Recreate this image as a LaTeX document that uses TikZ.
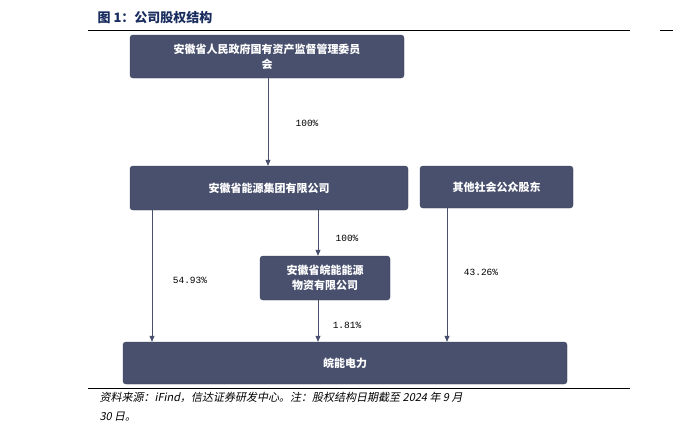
\documentclass[tikz,border=0pt]{standalone}
\usepackage{fontspec}
\setmainfont{Liberation Serif}
\newfontfamily\cjk{Noto Sans CJK SC}
\newfontfamily\cjksl{Noto Sans CJK SC}[FakeSlant=0.2]
\newfontfamily\lbl{Liberation Mono}
\usetikzlibrary{arrows.meta}
\definecolor{boxc}{RGB}{72,80,110}
\definecolor{titc}{RGB}{25,45,95}
\begin{document}
\begin{tikzpicture}[x=1pt,y=-1pt,
  bx/.style={draw=boxc!80!black,fill=boxc,rounded corners=3pt,text=white,font=\cjk\bfseries\fontsize{11}{15}\selectfont,align=center,inner sep=0pt},
  ar/.style={draw=boxc,line width=0.8pt,-{Triangle[length=6pt,width=5pt]}},
  pl/.style={font=\lbl\fontsize{9.5}{11}\selectfont,text=black}]
\useasboundingbox (0,0) rectangle (673,440);
\fill[white] (0,0) rectangle (673,440);
\node[anchor=west,text=titc,font=\cjk\bfseries\fontsize{13}{15}\selectfont] (title) at (94,18) {图 1：公司股权结构};
\draw[black,line width=0.6pt] (88,30) -- (630,30);
\draw[black,line width=0.6pt] (660,30) -- (673,30);
\node[bx,minimum width=274pt,minimum height=43pt] (b1) at (267,56.5) {安徽省人民政府国有资产监督管理委员\\会};
\node[bx,minimum width=278pt,minimum height=44pt] (b2) at (269,188) {安徽省能源集团有限公司};
\node[bx,minimum width=153pt,minimum height=42pt] (b3) at (496.5,187) {其他社会公众股东};
\node[bx,minimum width=130pt,minimum height=44pt] (b4) at (325,278) {安徽省皖能能源\\物资有限公司};
\node[bx,minimum width=444pt,minimum height=42pt] (b5) at (345,363) {皖能电力};
\draw[ar] (b1.south -| 268,0) -- (b2.north -| 268,0);
\node[pl] (l1) at (307,123) {100\%};
\draw[ar] (b2.south -| 152,0) -- (b5.north -| 152,0);
\node[pl] (l2) at (190,280) {54.93\%};
\draw[ar] (b2.south -| 318,0) -- (b4.north -| 318,0);
\node[pl] (l3) at (347,238) {100\%};
\draw[ar] (b4.south -| 318,0) -- (b5.north -| 318,0);
\node[pl] (l4) at (347,325) {1.81\%};
\draw[ar] (b3.south -| 447,0) -- (b5.north -| 447,0);
\node[pl] (l5) at (481,272) {43.26\%};
\draw[black,line width=0.6pt] (88,388) -- (630,388);
\node[anchor=north west,align=left,font=\cjksl\fontsize{11}{19}\selectfont] (src) at (96,389) {资料来源：iFind，信达证券研发中心。注：股权结构日期截至 2024 年 9 月\\30 日。};
\end{tikzpicture}
\end{document}
